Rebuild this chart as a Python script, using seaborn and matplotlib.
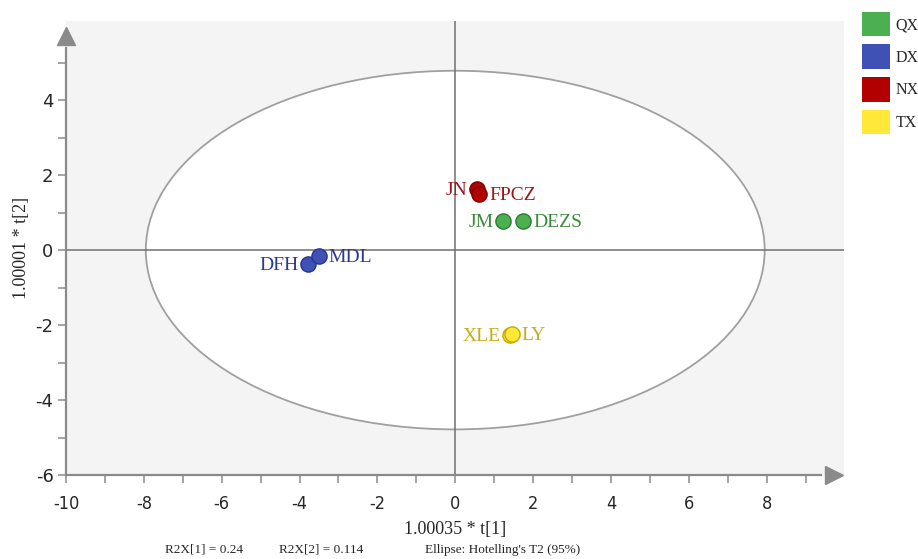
import numpy as np
import pandas as pd
import matplotlib
matplotlib.use("Agg")
import matplotlib.pyplot as plt
from matplotlib.patches import Ellipse, Patch
import seaborn as sns

# --- data ---
samples = ["JN", "FPCZ", "JM", "DEZS", "DFH", "MDL", "XLE", "LY"]
groups = ["NX", "NX", "QX", "QX", "DX", "DX", "TX", "TX"]
t1 = [0.57, 0.62, 1.23, 1.75, -3.78, -3.50, 1.41, 1.45]
t2 = [1.63, 1.49, 0.77, 0.77, -0.37, -0.16, -2.27, -2.24]
label_side = ["left", "right", "left", "right", "left", "right", "left", "right"]

group_order = ["QX", "DX", "NX", "TX"]
fill_colors = ["#4caf50", "#3f51b5", "#b20000", "#ffe838"]
edge_colors = ["#2e7d32", "#283593", "#7f0000", "#c9a800"]
text_colors = ["#3a8a3a", "#2b3a8c", "#a01515", "#c4ac1c"]

ellipse_a = 7.95
ellipse_b = 4.78
notes = ["R2X[1] = 0.24", "R2X[2] = 0.114", "Ellipse: Hotelling's T2 (95%)"]

df = pd.DataFrame({"sample": samples, "group": groups, "t1": t1, "t2": t2, "side": label_side})

sns.set_style("white")
plt.rcParams["axes.unicode_minus"] = False
serif = ["Liberation Serif", "DejaVu Serif"]

fig = plt.figure(figsize=(9.18, 5.59), dpi=100)
ax = fig.add_axes([0.0719, 0.150, 0.848, 0.812])
ax.set_facecolor("#f4f4f4")

ax.set_xlim(-10, 10)
ax.set_ylim(-6, 6.1)

# Hotelling ellipse and zero lines
ax.add_patch(Ellipse((0, 0), 2 * ellipse_a, 2 * ellipse_b, fill=True,
                     facecolor="white", edgecolor="#a0a0a0", lw=1.3, zorder=1))
ax.axhline(0, color="#707070", lw=1.1, zorder=2)
ax.axvline(0, color="#707070", lw=1.1, zorder=2)

# points
for g, fc, ec in zip(group_order, fill_colors, edge_colors):
    sub = df[df["group"] == g]
    sns.scatterplot(data=sub, x="t1", y="t2", ax=ax, color=fc, edgecolor=ec,
                    linewidth=1.0, s=120, zorder=4, legend=False)

# sample labels
col_of = dict(zip(group_order, text_colors))
for _, r in df.iterrows():
    off = -7 if r["side"] == "left" else 7
    ax.annotate(r["sample"], (r["t1"], r["t2"]), xytext=(off, -1),
                textcoords="offset points",
                ha="right" if r["side"] == "left" else "left", va="center",
                color=col_of[r["group"]], fontsize=14, family=serif, zorder=5)

# axes styling
for s in ["top", "right"]:
    ax.spines[s].set_visible(False)
for s in ["left", "bottom"]:
    ax.spines[s].set_color("#8a8a8a")
    ax.spines[s].set_linewidth(1.6)
ax.spines["left"].set_bounds(-6, 5.4)
ax.spines["bottom"].set_bounds(-10, 9.4)
ax.plot([-10], [5.7], marker="^", markersize=13, color="#8a8a8a", clip_on=False, zorder=6)
ax.plot([9.72], [-6], marker=">", markersize=13, color="#8a8a8a", clip_on=False, zorder=6)

ax.set_xticks(np.arange(-10, 9, 2))
ax.set_xticks(np.arange(-10, 10, 1), minor=True)
ax.set_yticks(np.arange(-6, 5, 2))
ax.set_yticks(np.arange(-6, 6, 1), minor=True)
ax.tick_params(which="both", direction="out", length=6, width=1.1, color="#8a8a8a",
               left=True, bottom=True)
ax.tick_params(axis="x", labelsize=13, pad=8)
ax.tick_params(axis="y", labelsize=13, pad=3)
for lab in ax.get_xticklabels():
    lab.set_family(["Liberation Sans Narrow", "DejaVu Sans"])
    lab.set_stretch("condensed")
for lab in ax.get_yticklabels():
    lab.set_family(["DejaVu Sans"])

ax.set_xlabel("1.00035 * t[1]", fontsize=13, family=serif, labelpad=6)
ax.set_ylabel("1.00001 * t[2]", fontsize=13, family=serif, labelpad=4)

# footer notes
for txt, xp in zip(notes, [0.222, 0.350, 0.548]):
    fig.text(xp, 0.006, txt, ha="center", va="bottom", fontsize=9.5, family=serif)

# legend
handles = [Patch(facecolor=c, edgecolor="none") for c in fill_colors]
fig.legend(handles, group_order, loc="upper left", bbox_to_anchor=(0.939, 0.979),
           frameon=False, prop={"family": serif, "size": 11.5},
           handlelength=1.75, handleheight=2.0, labelspacing=0.5, handletextpad=0.35,
           borderaxespad=0, borderpad=0)

fig.savefig("out.png", dpi=100)
